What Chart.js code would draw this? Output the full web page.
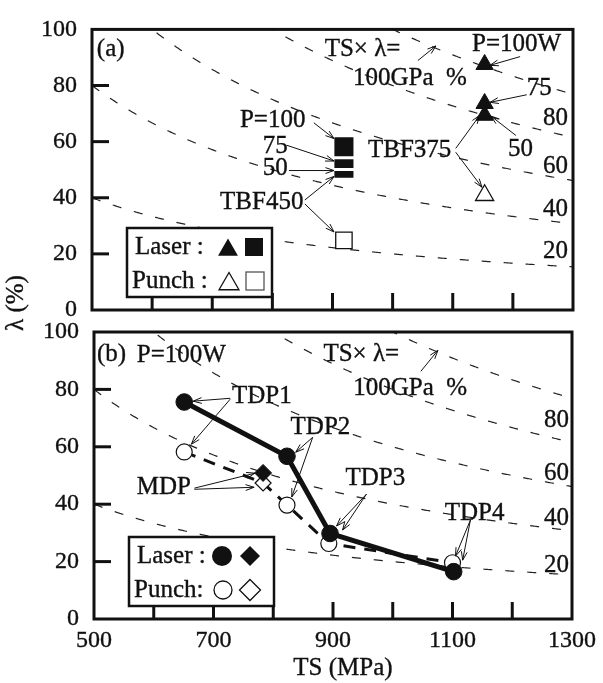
<!DOCTYPE html>
<html><head><meta charset="utf-8">
<script src="https://cdn.jsdelivr.net/npm/chart.js"></script>
<style>
html,body{margin:0;padding:0;background:#fff;}
#wrap{position:relative;width:603px;height:683px;background:#fff;}
canvas{position:absolute;left:0;top:0;}
</style>
</head><body>
<div id="wrap"><canvas id="ca" width="603" height="683"></canvas><canvas id="cb" width="603" height="683"></canvas></div>
<script>
// ---- axes ----
const xTicks = [500, 600, 700, 800, 900, 1000, 1100, 1200, 1300];
const xTickLabels = ['500', '', '700', '', '900', '', '1100', '', '1300'];
const yTicks = [0, 20, 40, 60, 80, 100];
const isoLevels = [20, 40, 60, 80, 100]; // TS x lambda, GPa%

// ---- panel (a) ----
const tbf450TS = 919;
const tbf450Laser = [58.2, 54.0, 50.5];   // P = 100, 75, 50 W
const tbf450Punch = [24.8];
const tbf375TS = 1153;
const tbf375Laser = [87.5, 73.6, 69.4];   // P = 100, 75, 50 W
const tbf375Punch = [40.9];

// ---- panel (b) ----
const tdpLaserTS = [651, 823, 895, 1102];       // TDP1..TDP4
const tdpLaserL  = [75.6, 56.7, 29.8, 16.5];
const punchTS = [651, 783, 823, 893, 1100];      // TDP1, MDP, TDP2, TDP3, TDP4
const punchL  = [58.2, 47.4, 39.7, 26.3, 19.6];
const punchStyles = ['circle', 'rectRot', 'circle', 'circle', 'circle'];
const mdpLaserTS = [783];
const mdpLaserL  = [50.9];

const FONT = '"Liberation Serif", "Times New Roman", Times, serif';
const INK = '#111';
const TXT_STROKE = 0.35;

const annA = {
  texts: [['(a)',508,93],['TS× λ=',887,92.7],['100GPa  %',934,82.6],['P=100W',1132,94.8],['75',1223,78.8],['50',1192,57.3],
          ['TBF375',959,56.9],['P=100',746,67.7],['75',784,58.3],['50',784,50.3],['TBF450',713,38.2],
          ['80',1250,68.4],['60',1250,51],['40',1250,35.8],['20',1250,20.8]],
  arrows: [[1042,88.9,1072,94.1],[1212,90.3,1162,87.2],[1223,76.7,1162,74],[1205,62.2,1163.6,69.1],
           [1105,57.6,1145,69.4],[1105,56.2,1148.6,43.75],[869,66.7,902.5,61.1],[824,58.7,902.5,53.1],
           [827.6,49.7,902.5,49.7],[854,39.2,902.5,47.6],[854,37.8,902.5,27.8]]
};
const annB = {
  texts: [['(b)',505,92.2],['P=100W',571.5,91.9],['TS× λ=',884,92.2],['100GPa  %',934,80.4],['TDP1',731,77.6],
          ['TDP2',829,66.8],['TDP3',921,49.1],['TDP4',1087,36.9],['MDP',571.5,45.9],
          ['80',1253,69.3],['60',1253,50.8],['40',1253,35.2],['20',1253,18.8]],
  arrows: [[1047,86.3,1075.5,93.6],[728,76.9,666,75.9],[728,76.6,663,60.9],[866,63.3,837.6,58.1],[866,63.3,831,42.5],
           [956,43.5,906,32.4],[956,43.5,916,31],[1130,34.5,1105,21.9],[1130,34.5,1117,20.5],
           [668,45.6,769.4,50.8],[668,45.2,768,45.9]]
};

function text(ctx, s, x, y) {
  ctx.fillText(s, x, y);
  ctx.save(); ctx.lineWidth = TXT_STROKE; ctx.strokeStyle = INK; ctx.setLineDash([]); ctx.strokeText(s, x, y); ctx.restore();
}
function arrow(ctx, x1, y1, x2, y2) {
  ctx.beginPath(); ctx.moveTo(x1, y1); ctx.lineTo(x2, y2); ctx.stroke();
  const ang = Math.atan2(y2 - y1, x2 - x1), L = 9, w = 0.33;
  ctx.beginPath();
  ctx.moveTo(x2 - L * Math.cos(ang - w), y2 - L * Math.sin(ang - w));
  ctx.lineTo(x2, y2);
  ctx.lineTo(x2 - L * Math.cos(ang + w), y2 - L * Math.sin(ang + w));
  ctx.stroke();
}
function tri(ctx, x, y, r, fill) {
  ctx.beginPath(); ctx.moveTo(x, y - r); ctx.lineTo(x + r * 0.866, y + r / 2); ctx.lineTo(x - r * 0.866, y + r / 2); ctx.closePath();
  fill ? ctx.fill() : ctx.stroke();
}
function dia(ctx, x, y, r, fill) {
  ctx.beginPath(); ctx.moveTo(x, y - r); ctx.lineTo(x + r, y); ctx.lineTo(x, y + r); ctx.lineTo(x - r, y); ctx.closePath();
  fill ? ctx.fill() : ctx.stroke();
}
function circ(ctx, x, y, r, fill) {
  ctx.beginPath(); ctx.arc(x, y, r, 0, Math.PI * 2); fill ? ctx.fill() : ctx.stroke();
}

function overlay(panel, ann) {
  return {
    id: 'overlay' + panel,
    beforeDatasetsDraw(chart) {
      const {ctx, chartArea: a, scales: {x, y}} = chart;
      ctx.save();
      ctx.beginPath(); ctx.rect(a.left, a.top, a.right - a.left, a.bottom - a.top); ctx.clip();
      ctx.strokeStyle = '#222'; ctx.lineWidth = 1.2; ctx.setLineDash([9, 13]);
      isoLevels.forEach(c => {
        ctx.beginPath();
        let first = true;
        for (let ts = x.min; ts <= x.max; ts += 2) {
          const px = x.getPixelForValue(ts), py = y.getPixelForValue(c * 1000 / ts);
          if (first) { ctx.moveTo(px, py); first = false; } else ctx.lineTo(px, py);
        }
        ctx.stroke();
      });
      ctx.restore();
    },
    afterDatasetsDraw(chart) {
      const {ctx, chartArea: a, scales: {x, y}} = chart;
      ctx.save();
      ctx.strokeStyle = INK; ctx.lineWidth = 3; ctx.setLineDash([]);
      ctx.strokeRect(a.left, a.top, a.right - a.left, a.bottom - a.top);
      xTicks.slice(1, -1).forEach(v => {
        const px = x.getPixelForValue(v);
        ctx.beginPath(); ctx.moveTo(px, a.bottom); ctx.lineTo(px, a.bottom - 17); ctx.stroke();
      });
      yTicks.slice(1, -1).forEach(v => {
        const py = y.getPixelForValue(v);
        ctx.beginPath(); ctx.moveTo(a.left, py); ctx.lineTo(a.left + 17, py); ctx.stroke();
      });
      ctx.fillStyle = INK; ctx.font = '25px ' + FONT; ctx.textBaseline = 'middle'; ctx.textAlign = 'left';
      ann.texts.forEach(([s, ts, l]) => text(ctx, s, x.getPixelForValue(ts), y.getPixelForValue(l)));
      ctx.lineWidth = 1; ctx.strokeStyle = INK;
      ann.arrows.forEach(([t1, l1, t2, l2]) => arrow(ctx, x.getPixelForValue(t1), y.getPixelForValue(l1), x.getPixelForValue(t2), y.getPixelForValue(l2)));
      const bx = a.left + 35, bw = 145, bh = 69, by = a.bottom - 82;
      ctx.fillStyle = '#fff'; ctx.fillRect(bx, by, bw, bh);
      ctx.lineWidth = 2.5; ctx.strokeStyle = INK; ctx.strokeRect(bx, by, bw, bh);
      ctx.fillStyle = INK; ctx.font = '25px ' + FONT;
      const r1 = by + 19, r2 = by + 53;
      if (panel === 'a') {
        text(ctx, 'Laser :', bx + 8, r1);
        text(ctx, 'Punch :', bx + 5, r2);
        tri(ctx, bx + 101, r1 + 3, 11.5, true);
        ctx.fillRect(bx + 118, r1 - 9, 18, 18);
        ctx.lineWidth = 1.3; tri(ctx, bx + 102, r2 + 3, 11.5, false);
        ctx.strokeStyle = '#555'; ctx.strokeRect(bx + 119, r2 - 9, 18, 18);
      } else {
        text(ctx, 'Laser :', bx + 8, r1);
        text(ctx, 'Punch:', bx + 5, r2);
        circ(ctx, bx + 93, r1, 10, true);
        dia(ctx, bx + 121, r1, 10, true);
        ctx.lineWidth = 1.3; circ(ctx, bx + 94, r2, 9, false);
        dia(ctx, bx + 121, r2, 10.5, false);
      }
      ctx.restore();
    },
    afterDraw(chart) {
      const ctx = chart.ctx;
      ctx.save(); ctx.fillStyle = INK; ctx.font = '25px ' + FONT; ctx.textBaseline = 'middle'; ctx.textAlign = 'center';
      if (panel === 'a') {
        ctx.translate(16, 303); ctx.rotate(-Math.PI / 2); text(ctx, 'λ (%)', 0, 0);
      } else {
        text(ctx, 'TS (MPa)', 343, 668);
      }
      ctx.restore();
    }
  };
}

function scales(panel) {
  return {
    x: {
      type: 'linear', min: 500, max: 1300,
      afterBuildTicks: s => { s.ticks = xTicks.map(v => ({value: v})); },
      afterFit: s => { s.height = panel === 'a' ? 0 : 64; },
      ticks: {display: panel === 'b', autoSkip: false, maxRotation: 0, padding: 7, color: INK,
              textStrokeColor: INK, textStrokeWidth: TXT_STROKE,
              font: {family: FONT, size: 24}, callback: (v, i) => xTickLabels[i]},
      grid: {display: false, drawTicks: false}, border: {display: false}
    },
    y: {
      type: 'linear', min: 0, max: 100,
      afterBuildTicks: s => { s.ticks = yTicks.map(v => ({value: v})); },
      afterFit: s => { s.width = panel === 'a' ? 92 : 94; },
      ticks: {padding: 15, color: INK, textStrokeColor: INK, textStrokeWidth: TXT_STROKE, font: {family: FONT, size: 24}},
      grid: {display: false, drawTicks: false}, border: {display: false}
    }
  };
}
const common = {responsive: false, animation: false, events: [], plugins: {legend: {display: false}, tooltip: {enabled: false}}};

function build() {
  Chart.defaults.font.family = FONT;
  new Chart(document.getElementById('ca'), {
    type: 'scatter',
    data: {datasets: [
      {label: 'TBF450 laser', data: tbf450Laser.slice().reverse().map(l => ({x: tbf450TS, y: l})),
       pointStyle: 'rect', pointRadius: 15.6, backgroundColor: INK, borderColor: '#fff', borderWidth: 3},
      {label: 'TBF450 punch', data: tbf450Punch.map(l => ({x: tbf450TS, y: l})),
       pointStyle: 'rect', pointRadius: 11.6, backgroundColor: '#fff', borderColor: INK, borderWidth: 1.3},
      {label: 'TBF375 laser', data: tbf375Laser.map(l => ({x: tbf375TS, y: l})),
       pointStyle: 'triangle', pointRadius: 10, backgroundColor: INK, borderColor: INK, borderWidth: 1},
      {label: 'TBF375 punch', data: tbf375Punch.map(l => ({x: tbf375TS, y: l})),
       pointStyle: 'triangle', pointRadius: 10.5, backgroundColor: '#fff', borderColor: INK, borderWidth: 1.3}
    ]},
    options: Object.assign({}, common, {layout: {padding: {left: 0, top: 22, right: 30, bottom: 373}}, scales: scales('a')}),
    plugins: [overlay('a', annA)]
  });

  new Chart(document.getElementById('cb'), {
    type: 'scatter',
    data: {datasets: [
      {label: 'MDP laser', data: mdpLaserTS.map((t, i) => ({x: t, y: mdpLaserL[i]})), order: 0,
       pointStyle: 'rectRot', pointRadius: 8.5, backgroundColor: INK, borderColor: INK, borderWidth: 1},
      {label: 'Laser', data: tdpLaserTS.map((t, i) => ({x: t, y: tdpLaserL[i]})), order: 1, showLine: true,
       borderColor: INK, borderWidth: 5, pointStyle: 'circle', pointRadius: 8.3,
       pointBackgroundColor: INK, pointBorderColor: INK, pointBorderWidth: 1},
      {label: 'Punch', data: punchTS.map((t, i) => ({x: t, y: punchL[i]})), order: 2, showLine: true,
       borderColor: INK, borderWidth: 3, borderDash: [12, 9], pointStyle: punchStyles, pointRadius: 8,
       pointBackgroundColor: '#fff', pointBorderColor: INK, pointBorderWidth: 1.2}
    ]},
    options: Object.assign({}, common, {layout: {padding: {left: 0, top: 332, right: 28, bottom: 0}}, scales: scales('b')}),
    plugins: [overlay('b', annB)]
  });
}

(document.fonts && document.fonts.load
  ? Promise.all([document.fonts.load('25px "Liberation Serif"', 'TSλ×0123456789')]).catch(() => {})
  : Promise.resolve()).then(build, build);
</script>
</body></html>
